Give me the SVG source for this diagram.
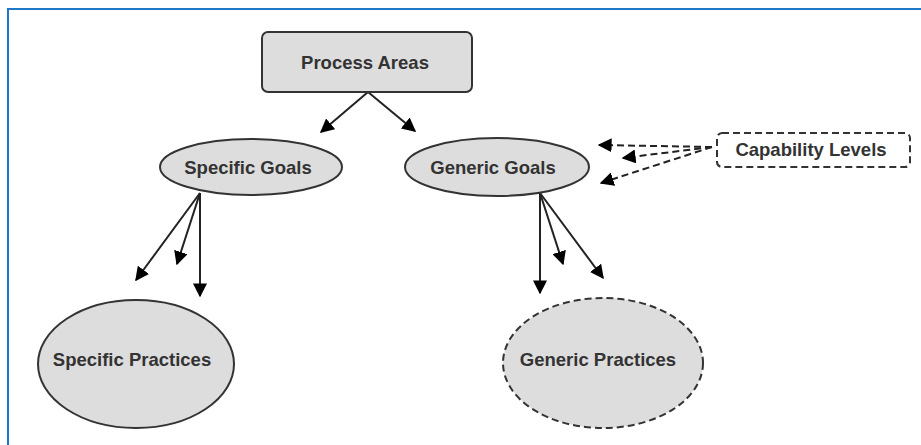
<svg xmlns="http://www.w3.org/2000/svg" width="921" height="445" viewBox="0 0 921 445">
<style>
.frame{fill:none;stroke:#1f78c8;stroke-width:2}
.node{fill:#dddddd;stroke:#333;stroke-width:2}
.dash{stroke-dasharray:7,4}
.lbl{font-family:"Liberation Sans",Arial,sans-serif;font-weight:bold;font-size:18.5px;fill:#333;text-anchor:middle}
.conn{stroke:#222;stroke-width:2;fill:none}
</style>
<defs>
<marker id="ah" viewBox="0 0 10 10" refX="9" refY="5" markerWidth="7" markerHeight="7" markerUnits="strokeWidth" orient="auto">
<path d="M0,0 L10,5 L0,10 Z" fill="#000"/>
</marker>
</defs>
<rect width="921" height="445" fill="#fff"/>
<path class="frame" d="M8,445 V9 H921"/>
<g id="connectors">
<line class="conn" x1="368" y1="92" x2="321" y2="132" marker-end="url(#ah)"/>
<line class="conn" x1="368" y1="92" x2="415" y2="131" marker-end="url(#ah)"/>
<line class="conn" x1="200" y1="193" x2="136" y2="280" marker-end="url(#ah)"/>
<line class="conn" x1="200" y1="193" x2="177" y2="264" marker-end="url(#ah)"/>
<line class="conn" x1="200" y1="193" x2="200" y2="296" marker-end="url(#ah)"/>
<line class="conn" x1="540" y1="193" x2="540" y2="293" marker-end="url(#ah)"/>
<line class="conn" x1="540" y1="193" x2="563" y2="264" marker-end="url(#ah)"/>
<line class="conn" x1="540" y1="193" x2="603" y2="278" marker-end="url(#ah)"/>
<line class="conn dash" x1="712" y1="147" x2="599" y2="145" marker-end="url(#ah)"/>
<line class="conn dash" x1="712" y1="147" x2="623" y2="158" marker-end="url(#ah)"/>
<line class="conn dash" x1="712" y1="147" x2="601" y2="183" marker-end="url(#ah)"/>
</g>
<g id="process-areas">
<rect class="node" x="262" y="32" width="210" height="60" rx="6"/>
<text class="lbl" x="365" y="69">Process Areas</text>
</g>
<g id="specific-goals">
<ellipse class="node" cx="251" cy="167" rx="91" ry="28"/>
<text class="lbl" x="248" y="174">Specific Goals</text>
</g>
<g id="generic-goals">
<ellipse class="node" cx="497" cy="167" rx="92" ry="29"/>
<text class="lbl" x="493" y="174">Generic Goals</text>
</g>
<g id="capability-levels">
<rect class="node dash" x="717" y="133" width="193" height="34" rx="5" style="fill:#fff"/>
<text class="lbl" x="811" y="156">Capability Levels</text>
</g>
<g id="specific-practices">
<ellipse class="node" cx="136" cy="364" rx="98" ry="64"/>
<text class="lbl" x="132" y="366">Specific Practices</text>
</g>
<g id="generic-practices">
<ellipse class="node dash" cx="603" cy="363" rx="100" ry="65"/>
<text class="lbl" x="598" y="366">Generic Practices</text>
</g>
</svg>
